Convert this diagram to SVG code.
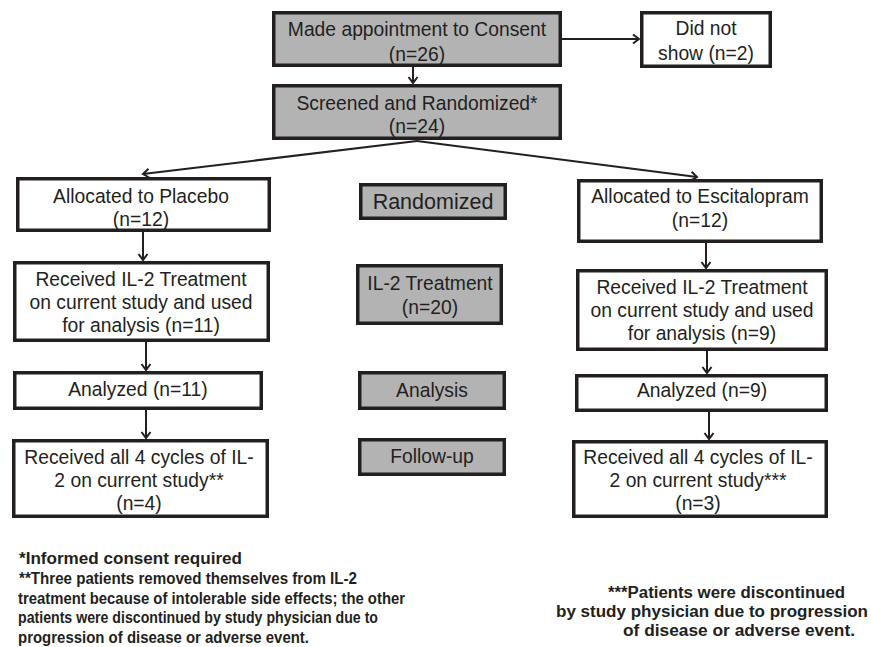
<svg xmlns="http://www.w3.org/2000/svg" width="871" height="647" viewBox="0 0 871 647">
<defs>
<style>
.box{fill:#ffffff;stroke:#231f20;stroke-width:3.5}
.gray{fill:#b3b3b3;stroke:#231f20;stroke-width:3.5}
.t{font-family:"Liberation Sans",Arial,sans-serif;font-size:19.3px;fill:#231f20;text-anchor:middle}
.big{font-size:21.5px}
.fn{font-family:"Liberation Sans",Arial,sans-serif;font-size:16px;font-weight:bold;fill:#231f20}
.c{fill:none;stroke:#231f20;stroke-width:2;marker-end:url(#arr)}
</style>
<marker id="arr" viewBox="-8 -6 10 12" refX="0" refY="0" markerWidth="10" markerHeight="12" markerUnits="userSpaceOnUse" orient="auto">
<path d="M-6,-4.5 L0,0 L-6,4.5" fill="none" stroke="#231f20" stroke-width="2"/>
</marker>
</defs>

<g id="connectors">
<line class="c" x1="413" y1="67" x2="413" y2="83"/>
<line class="c" x1="562" y1="39" x2="639" y2="39"/>
<line class="c" x1="417" y1="141" x2="143" y2="174"/>
<line class="c" x1="417" y1="141" x2="697" y2="177"/>
<line class="c" x1="143" y1="232" x2="143" y2="260"/>
<line class="c" x1="146" y1="342" x2="146" y2="370"/>
<line class="c" x1="146" y1="410" x2="146" y2="438"/>
<line class="c" x1="706" y1="243" x2="706" y2="268"/>
<line class="c" x1="707" y1="351" x2="707" y2="373"/>
<line class="c" x1="709" y1="412" x2="709" y2="439"/>
</g>

<g id="consent">
<rect class="gray" x="273.75" y="12.75" width="286.5" height="52.5"/>
<text class="t" x="417" y="36">Made appointment to Consent</text>
<text class="t" x="417" y="60.5">(n=26)</text>
</g>

<g id="noshow">
<rect class="box" x="641.75" y="12.75" width="128.5" height="53.5"/>
<text class="t" x="706" y="35">Did not</text>
<text class="t" x="706" y="60">show (n=2)</text>
</g>

<g id="screened">
<rect class="gray" x="273.75" y="85.75" width="286.5" height="52.5"/>
<text class="t" x="417" y="110">Screened and Randomized*</text>
<text class="t" x="417" y="133">(n=24)</text>
</g>

<g id="placebo">
<rect class="box" x="17.75" y="178.75" width="251.5" height="51.5"/>
<text class="t" x="141" y="203">Allocated to Placebo</text>
<text class="t" x="141" y="226">(n=12)</text>
</g>

<g id="escitalopram">
<rect class="box" x="578.75" y="180.75" width="242.5" height="60.5"/>
<text class="t" x="700" y="203">Allocated to Escitalopram</text>
<text class="t" x="700" y="227">(n=12)</text>
</g>

<g id="randomized">
<rect class="gray" x="360.75" y="184.75" width="144.5" height="33.5"/>
<text class="t big" x="433" y="208.5">Randomized</text>
</g>

<g id="received-placebo">
<rect class="box" x="14.75" y="262.75" width="253.5" height="77.5"/>
<text class="t" x="141" y="286">Received IL-2 Treatment</text>
<text class="t" x="141" y="309">on current study and used</text>
<text class="t" x="141" y="332">for analysis (n=11)</text>
</g>

<g id="il2">
<rect class="gray" x="357.75" y="265.75" width="143.5" height="57.5"/>
<text class="t" x="430" y="290">IL-2 Treatment</text>
<text class="t" x="430" y="314">(n=20)</text>
</g>

<g id="received-escitalopram">
<rect class="box" x="577.75" y="270.75" width="248.5" height="78.5"/>
<text class="t" x="702" y="294">Received IL-2 Treatment</text>
<text class="t" x="702" y="317">on current study and used</text>
<text class="t" x="702" y="340">for analysis (n=9)</text>
</g>

<g id="analyzed-placebo">
<rect class="box" x="14.75" y="372.75" width="246.5" height="35.5"/>
<text class="t" x="138" y="396">Analyzed (n=11)</text>
</g>

<g id="analysis">
<rect class="gray" x="359.75" y="372.75" width="144.5" height="35.5"/>
<text class="t" x="432" y="397">Analysis</text>
</g>

<g id="analyzed-escitalopram">
<rect class="box" x="576.75" y="375.75" width="249.5" height="34.5"/>
<text class="t" x="702" y="397">Analyzed (n=9)</text>
</g>

<g id="cycles-placebo">
<rect class="box" x="13.75" y="440.75" width="253.5" height="75.5"/>
<text class="t" x="139" y="464">Received all 4 cycles of IL-</text>
<text class="t" x="139" y="487">2 on current study**</text>
<text class="t" x="139" y="510">(n=4)</text>
</g>

<g id="followup">
<rect class="gray" x="359.75" y="439.75" width="144.5" height="34.5"/>
<text class="t" x="432" y="462.5">Follow-up</text>
</g>

<g id="cycles-escitalopram">
<rect class="box" x="573.75" y="441.75" width="252.5" height="74.5"/>
<text class="t" x="698" y="464">Received all 4 cycles of IL-</text>
<text class="t" x="698" y="487">2 on current study***</text>
<text class="t" x="698" y="510">(n=3)</text>
</g>

<g id="footnotes">
<text class="fn" x="19" y="563.5" textLength="223" lengthAdjust="spacingAndGlyphs">*Informed consent required</text>
<text class="fn" x="19" y="583.5" textLength="338" lengthAdjust="spacingAndGlyphs">**Three patients removed themselves from IL-2</text>
<text class="fn" x="18" y="603.5" textLength="387" lengthAdjust="spacingAndGlyphs">treatment because of intolerable side effects; the other</text>
<text class="fn" x="18" y="623" textLength="360" lengthAdjust="spacingAndGlyphs">patients were discontinued by study physician due to</text>
<text class="fn" x="18" y="642.5" textLength="291" lengthAdjust="spacingAndGlyphs">progression of disease or adverse event.</text>
<text class="fn" x="608" y="598" textLength="237" lengthAdjust="spacingAndGlyphs">***Patients were discontinued</text>
<text class="fn" x="556" y="617" textLength="312" lengthAdjust="spacingAndGlyphs">by study physician due to progression</text>
<text class="fn" x="623" y="636" textLength="232" lengthAdjust="spacingAndGlyphs">of disease or adverse event.</text>
</g>
</svg>
